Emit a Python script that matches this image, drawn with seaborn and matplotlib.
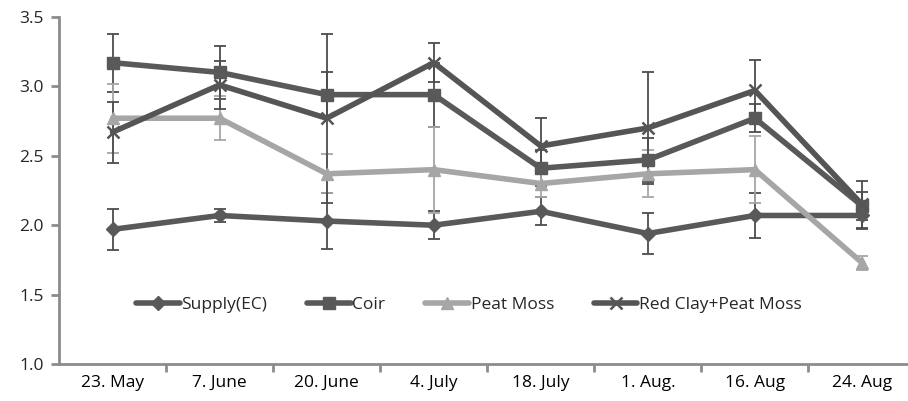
import matplotlib
matplotlib.use("Agg")
import matplotlib.pyplot as plt
import seaborn as sns
import numpy as np
import pandas as pd

dates = ["23. May", "7. June", "20. June", "4. July", "18. July", "1. Aug.", "16. Aug", "24. Aug"]
series_names = ["Supply(EC)", "Coir", "Peat Moss", "Red Clay+Peat Moss"]

supply = [1.97, 2.07, 2.03, 2.00, 2.10, 1.94, 2.07, 2.07]
supply_err = [0.15, 0.05, 0.20, 0.10, 0.10, 0.15, 0.16, 0.10]
coir = [3.17, 3.10, 2.94, 2.94, 2.41, 2.47, 2.77, 2.14]
coir_err = [0.21, 0.19, 0.16, 0.23, 0.13, 0.16, 0.10, 0.10]
peat = [2.77, 2.77, 2.37, 2.40, 2.30, 2.37, 2.40, 1.73]
peat_err = [0.25, 0.16, 0.14, 0.31, 0.10, 0.17, 0.24, 0.05]
redclay = [2.67, 3.01, 2.77, 3.17, 2.57, 2.70, 2.97, 2.15]
redclay_err = [0.22, 0.17, 0.61, 0.14, 0.20, 0.40, 0.22, 0.17]

values = [supply, coir, peat, redclay]
errors = [supply_err, coir_err, peat_err, redclay_err]
colors = ["#595959", "#595959", "#a6a6a6", "#555555"]
markers = ["D", "s", "^", "x"]
msizes = [8, 10, 10, 11]

sns.set_theme(style="white")
plt.rcParams["font.family"] = ["Open Sans", "DejaVu Sans"]

fig = plt.figure(figsize=(9.08, 4.01), dpi=100)
ax = fig.add_axes([0.065, 0.092, 0.935, 0.866])

x = np.arange(len(dates))
for k, (name, vals, errs, c, m, ms) in enumerate(zip(series_names, values, errors, colors, markers, msizes)):
    df = pd.DataFrame({"idx": x, "value": vals})
    sns.lineplot(data=df, x="idx", y="value", color=c, marker=m, markersize=ms,
                 markeredgecolor=c, markeredgewidth=1.8 if m == "x" else 1,
                 linewidth=4, ax=ax, label=name, zorder=3)
    ax.errorbar(x, vals, yerr=errs, fmt="none",
                ecolor="#4d4d4d" if k != 2 else "#a6a6a6",
                elinewidth=1.3, capsize=4, capthick=1.3, zorder=2)

ax.set_xlim(-0.5, 7.43)
ax.set_ylim(1.0, 3.5)
ax.set_yticks([1.0, 1.5, 2.0, 2.5, 3.0, 3.5])
ax.set_yticklabels(["1.0", "1.5", "2.0", "2.5", "3.0", "3.5"])
ax.set_xticks(range(len(dates)))
ax.set_xticklabels(dates)
ax.set_xticks(np.arange(0.5, 7.5, 1.0), minor=True)
ax.tick_params(axis="x", which="major", length=0, pad=8, labelsize=12.5, colors="#000000")
ax.tick_params(axis="x", which="minor", length=6, width=2, color="#8c8c8c", direction="out", bottom=True)
ax.tick_params(axis="y", length=6, width=2, color="#8c8c8c", direction="out", labelsize=12.5, pad=5, left=True)
ax.set_xlabel("")
ax.set_ylabel("")
for s in ["top", "right"]:
    ax.spines[s].set_visible(False)
for s in ["left", "bottom"]:
    ax.spines[s].set_color("#8c8c8c")
    ax.spines[s].set_linewidth(2)

handles, labels = ax.get_legend_handles_labels()
for h in handles:
    h.set_markersize(h.get_markersize() * 0.85)
ax.legend(handles, labels, loc="center", bbox_to_anchor=(0.483, 0.17), ncol=4, frameon=False,
          handlelength=2.5, handletextpad=0.1, columnspacing=2.3, fontsize=12.5)

fig.savefig("out.png", dpi=100)
